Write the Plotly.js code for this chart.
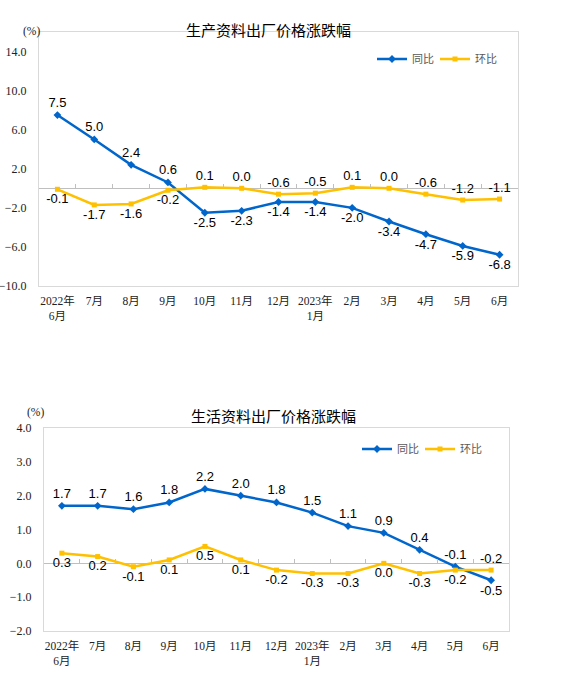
<!DOCTYPE html>
<html><head><meta charset="utf-8">
<script src="https://cdn.plot.ly/plotly-3.0.1.min.js"></script>
<style>html,body{margin:0;padding:0;background:#fff}#chart{width:578px;height:678px}</style>
</head><body><div id="chart"></div>
<script>
const categories = ['2022年<br>6月','7月','8月','9月','10月','11月','12月','2023年<br>1月','2月','3月','4月','5月','6月'];
const seriesNames = ['同比','环比'];
const chartTitles = ['生产资料出厂价格涨跌幅','生活资料出厂价格涨跌幅'];
const unitLabel = '(%)';
const prodYoy = [7.5,5.0,2.4,0.6,-2.5,-2.3,-1.4,-1.4,-2.0,-3.4,-4.7,-5.9,-6.8];
const prodMom = [-0.1,-1.7,-1.6,-0.2,0.1,0.0,-0.6,-0.5,0.1,0.0,-0.6,-1.2,-1.1];
const consYoy = [1.7,1.7,1.6,1.8,2.2,2.0,1.8,1.5,1.1,0.9,0.4,-0.1,-0.5];
const consMom = [0.3,0.2,-0.1,0.1,0.5,0.1,-0.2,-0.3,-0.3,0.0,-0.3,-0.2,-0.2];

const W = 578, H = 678;
const px = x => x / W, py = y => 1 - y / H;
const BLUE = '#0066CC', YEL = '#FFC000';
const T = 'top center', B = 'bottom center';
const prodYoyPos = categories.map((c,i) => i < 4 ? T : B);
const prodMomPos = categories.map((c,i) => i < 4 ? B : T);
const consYoyPos = categories.map((c,i) => i < 12 ? T : B);
const consMomPos = categories.map((c,i) => i < 12 ? B : T);

const labelFont = {family:'Liberation Sans, Arial, sans-serif', size:13, color:'#000'};
const fmt = v => v.toFixed(1);

function lineTrace(y, name, color, sym, msize, pos, xa, ya, leg, showleg) {
  return {
    type:'scatter', mode:'lines+markers+text', x:categories, y:y, name:name,
    line:{color:color, width:2.5}, marker:{color:color, symbol:sym, size:msize},
    text:y.map(fmt), textposition:pos, textfont:labelFont, cliponaxis:false,
    xaxis:xa, yaxis:ya, legend:leg, showlegend:showleg, hoverinfo:'skip'
  };
}

const yr1 = [-10,16], yr2 = [-2,4];
const yd1 = [py(286), py(32)], yd2 = [py(631), py(428)];
const zeroPos = (r, d) => d[0] + (0 - r[0]) / (r[1] - r[0]) * (d[1] - d[0]);

const traces = [
  lineTrace(prodYoy, seriesNames[0], BLUE, 'diamond', 6, prodYoyPos, 'x', 'y', 'legend', true),
  lineTrace(prodMom, seriesNames[1], YEL, 'square', 5, prodMomPos, 'x', 'y', 'legend', true),
  lineTrace(consYoy, seriesNames[0], BLUE, 'diamond', 6, consYoyPos, 'x2', 'y2', 'legend2', true),
  lineTrace(consMom, seriesNames[1], YEL, 'square', 5, consMomPos, 'x2', 'y2', 'legend2', true),
  {type:'scatter', mode:'none', x:categories, y:categories.map(()=>null), xaxis:'x3', yaxis:'y', showlegend:false, hoverinfo:'skip'},
  {type:'scatter', mode:'none', x:categories, y:categories.map(()=>null), xaxis:'x4', yaxis:'y2', showlegend:false, hoverinfo:'skip'}
];

const tickFontX = {family:'Liberation Serif, Noto Sans CJK SC, serif', size:11.5, color:'#222'};
const tickFontY = {family:'Liberation Serif, Times New Roman, serif', size:12, color:'#222'};
const frame = {showline:true, mirror:true, linecolor:'#d9d9d9', linewidth:1, showgrid:false, fixedrange:true};

function xAxis(dom, anchor) {
  return Object.assign({}, frame, {domain:dom, anchor:anchor, type:'category', range:[-0.5,12.5],
    ticks:'', tickfont:tickFontX, ticklabelstandoff:4, zeroline:false});
}
function yAxis(dom, anchor, r, dt) {
  return Object.assign({}, frame, {domain:dom, anchor:anchor, range:r, tick0:r[0], dtick:dt,
    tickformat:'.1f', ticks:'', tickfont:tickFontY, ticklabelstandoff:9,
    zeroline:true, zerolinecolor:'#bfbfbf', zerolinewidth:1});
}
function tickAxis(over, r, d) {
  return {overlaying:over, anchor:'free', position:zeroPos(r, d), type:'category', range:[-0.5,12.5],
    showticklabels:false, showline:false, showgrid:false, zeroline:false,
    ticks:'inside', tickson:'boundaries', ticklen:4, tickcolor:'#bfbfbf', tickwidth:1, fixedrange:true};
}

const legendBase = {orientation:'h', xanchor:'left', yanchor:'middle', bgcolor:'rgba(0,0,0,0)',
  entrywidth:18, entrywidthmode:'pixels',
  font:{family:'Noto Sans CJK SC, sans-serif', size:11, color:'#595959'}, itemclick:false, itemdoubleclick:false};

const layout = {
  width:W, height:H, margin:{l:0,r:0,t:0,b:0}, paper_bgcolor:'#fff', plot_bgcolor:'#fff',
  xaxis: xAxis([px(39), px(518)], 'y'),
  yaxis: yAxis(yd1, 'x', yr1, 4),
  xaxis2: xAxis([px(44), px(509)], 'y2'),
  yaxis2: yAxis(yd2, 'x2', yr2, 1),
  xaxis3: tickAxis('x', yr1, yd1),
  xaxis4: tickAxis('x2', yr2, yd2),
  legend: Object.assign({}, legendBase, {x:px(372), y:py(59)}),
  legend2: Object.assign({}, legendBase, {x:px(357), y:py(449)}),
  annotations:[
    {text:chartTitles[0], xref:'paper', yref:'paper', x:px(268), y:py(17), showarrow:false,
     font:{family:'Noto Sans CJK SC, sans-serif', size:15, color:'#000'}},
    {text:chartTitles[1], xref:'paper', yref:'paper', x:px(273), y:py(415), showarrow:false,
     font:{family:'Noto Sans CJK SC, sans-serif', size:15, color:'#000'}},
    {text:unitLabel, xref:'paper', yref:'paper', x:px(21), y:py(23), showarrow:false,
     font:{family:'Liberation Serif, serif', size:11.5, color:'#222'}},
    {text:unitLabel, xref:'paper', yref:'paper', x:px(25), y:py(412), showarrow:false,
     font:{family:'Liberation Serif, serif', size:11.5, color:'#222'}}
  ]
};

Plotly.newPlot('chart', traces, layout, {displayModeBar:false, staticPlot:true});
</script>
</body></html>
